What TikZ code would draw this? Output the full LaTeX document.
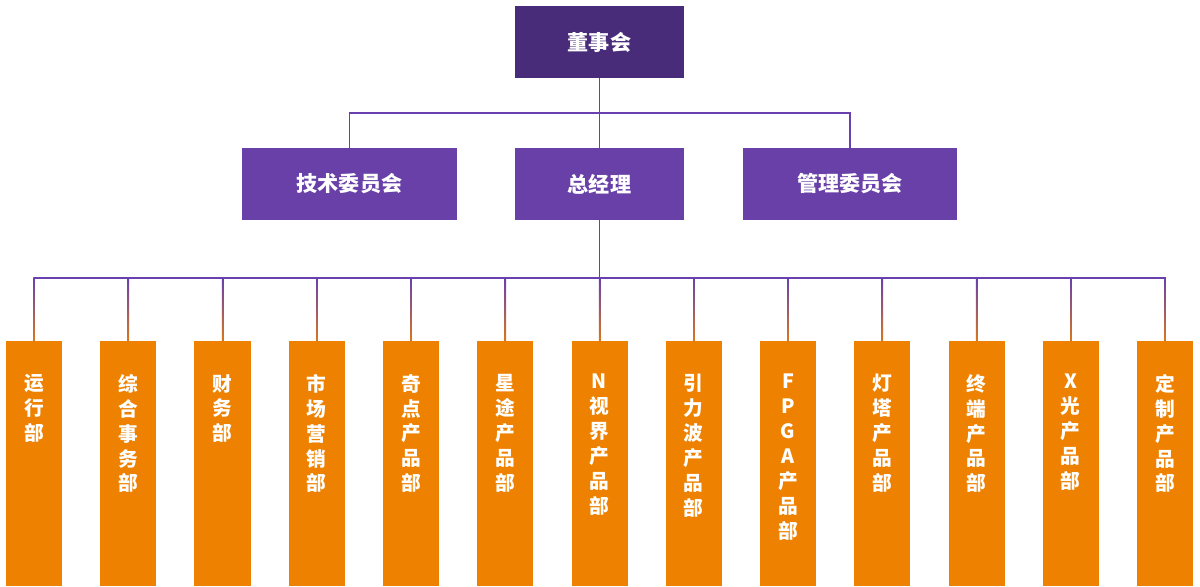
\documentclass[tikz,border=0pt]{standalone}
\usepackage{fontspec}
\newfontfamily\cjk{Noto Sans CJK SC}
\usetikzlibrary{calc}
\definecolor{darkP}{RGB}{72,44,122}
\definecolor{midP}{RGB}{104,64,168}
\definecolor{lineP}{RGB}{104,64,176}
\definecolor{orng}{RGB}{238,130,0}
\begin{document}
\begin{tikzpicture}[x=0.025cm,y=-0.025cm,
  topbox/.style={rectangle, fill=darkP, minimum height=1.8cm, inner sep=0pt, text=white, font=\cjk\bfseries\fontsize{15}{18}\selectfont},
  midbox/.style={rectangle, fill=midP, minimum height=1.8cm, inner sep=0pt, text=white, font=\cjk\bfseries\fontsize{15}{18}\selectfont},
  deptbox/.style={rectangle, fill=orng, minimum width=1.4cm, minimum height=6.125cm, inner sep=0pt, anchor=north},
  vtext/.style={anchor=north, align=center, inner sep=0pt, text=white, font=\cjk\bfseries\fontsize{14}{17.7}\selectfont},
  conn/.style={draw=lineP, line width=1.1pt}
]
\useasboundingbox (0,0) rectangle (1200,586);
% top levels
\node[topbox, minimum width=4.225cm] (top) at (599.5,42) {董事会};
\node[midbox, minimum width=5.375cm] (tech) at (349.5,184) {技术委员会};
\node[midbox, minimum width=4.225cm] (gm) at (599.5,184) {总经理};
\node[midbox, minimum width=5.35cm] (mgmt) at (850,184) {管理委员会};
\coordinate (j1) at (599.5,113);
\draw[conn] (top.south) -- (gm.north);
\draw[conn] (tech.north) |- (j1) -| (mgmt.north);
% departments
\coordinate (bus) at (599.5,278);
\foreach \i/\txt [evaluate=\i as \xx using {34+94.25*(\i-1)}] in
  {1/{运\\行\\部},2/{综\\合\\事\\务\\部},3/{财\\务\\部},4/{市\\场\\营\\销\\部},
   5/{奇\\点\\产\\品\\部},6/{星\\途\\产\\品\\部},7/{N\\视\\界\\产\\品\\部},
   8/{引\\力\\波\\产\\品\\部},9/{F\\P\\G\\A\\产\\品\\部},10/{灯\\塔\\产\\品\\部},
   11/{终\\端\\产\\品\\部},12/{X\\光\\产\\品\\部},13/{定\\制\\产\\品\\部}}{
  \node[deptbox] (d\i) at (\xx,341) {};
  \node[vtext] (t\i) at ($(d\i.north)+(0,33)$) {\txt};
}
\draw[conn] (gm.south) -- (gm.south |- bus);
\draw[conn] (d1.north |- bus) -- (d13.north |- bus);
\foreach \i in {1,...,13}{
  \shade[top color=lineP, bottom color=orng!85!lineP, middle color=lineP!60!orng]
    ($(d\i.north |- bus)+(-0.75,-0.75)$) rectangle ($(d\i.north)+(0.75,0)$);
}
\end{tikzpicture}
\end{document}
